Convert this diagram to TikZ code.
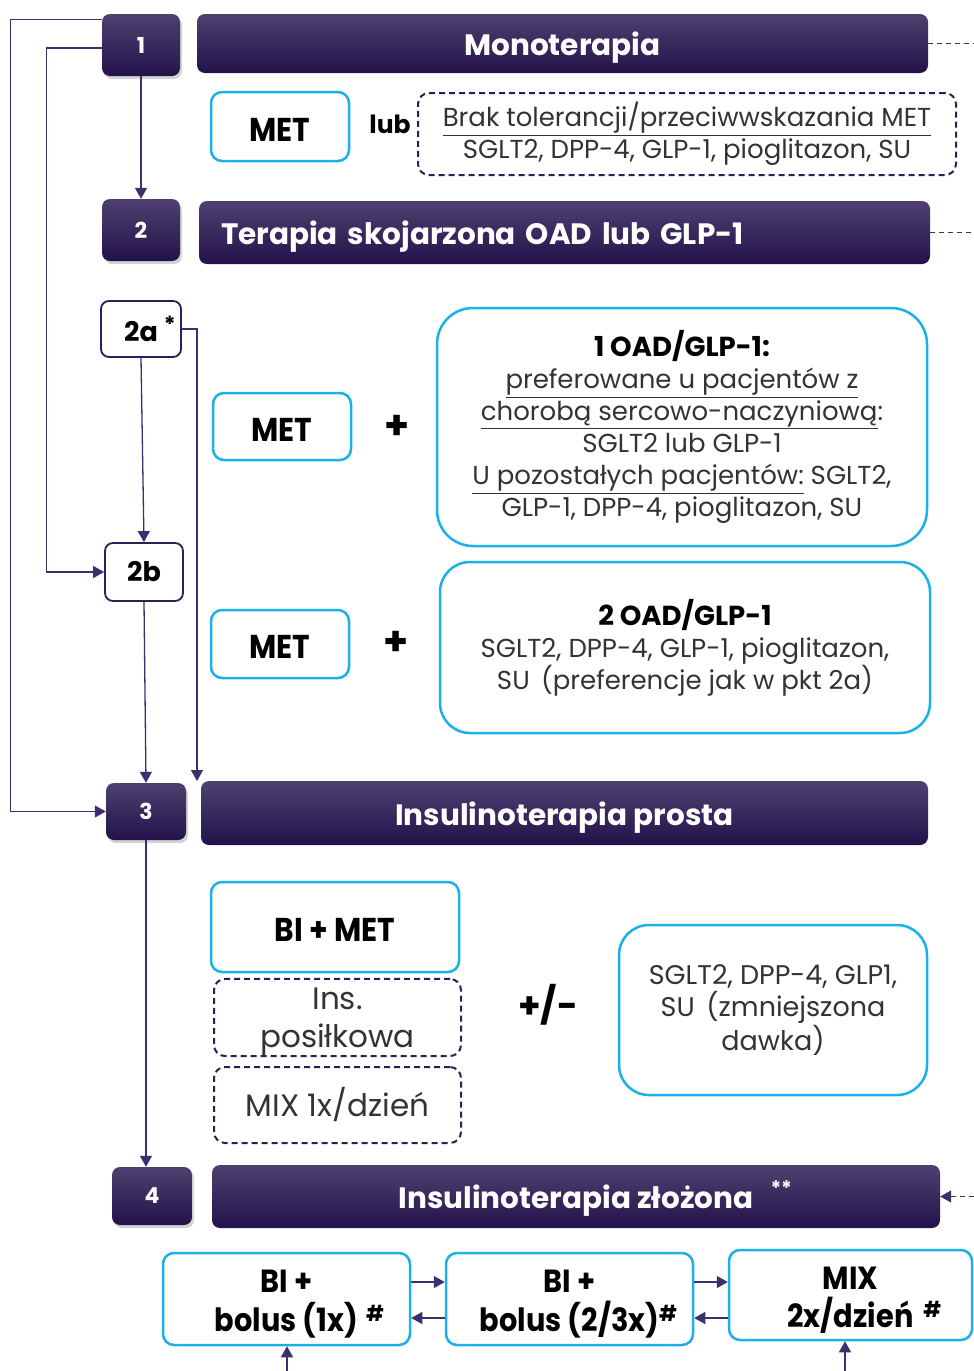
\documentclass[tikz,border=0pt]{standalone}
\usepackage{fontspec}
\setmainfont{Poppins}
\newfontfamily\condf{Poppins}[FakeStretch=0.9]
\usetikzlibrary{arrows.meta,shadows,calc}
\definecolor{hdrtop}{HTML}{4E4170}
\definecolor{hdrbot}{HTML}{22124A}
\definecolor{cy}{HTML}{1CB0E8}
\definecolor{ln}{HTML}{3D2F6E}
\definecolor{dk}{HTML}{2B1E55}
\definecolor{tx}{HTML}{333333}
\newcommand{\bk}[1]{{\color{black}\bfseries\fontsize{27.5}{32}\selectfont #1}}
\newcommand{\ulin}[1]{\underline{#1}}
\newcommand{\fl}[1]{\rule{0pt}{#1}}
\begin{document}
\begin{tikzpicture}[x=1pt,y=-1pt,
  base/.style={inner sep=0pt, align=center, font=\fontsize{26}{32}\selectfont, text=tx},
  numbox/.style={base, rounded corners=8pt, top color=hdrtop, bottom color=hdrbot, draw=none,
     text=white, font=\bfseries\fontsize{22}{26}\selectfont,
     drop shadow={opacity=0.35, shadow xshift=2pt, shadow yshift=-3pt}},
  hdrbox/.style={base, rounded corners=8pt, top color=hdrtop, bottom color=hdrbot, draw=none,
     text=white, font=\bfseries\fontsize{29.5}{32}\selectfont, text height=26pt, text depth=2pt},
  cybox/.style={base, draw=cy, line width=2.5pt, rounded corners=11pt, fill=white},
  dbox/.style={base, draw=dk, line width=2pt, dash pattern=on 6pt off 4pt, rounded corners=11pt},
  lbox/.style={base, draw=dk, line width=1.8pt, rounded corners=8pt, fill=white, text=black,
     font=\bfseries\fontsize{27}{30}\selectfont},
  bigt/.style={font=\condf\bfseries\fontsize{33}{36}\selectfont, text=black, text height=29pt, text depth=0pt},
  bott/.style={font=\condf\bfseries\fontsize{32}{39}\selectfont, text=black},
  conn/.style={draw=ln, line width=1.3pt},
  arr/.style={conn, -{Triangle[width=12pt,length=11pt]}},
  darr/.style={conn, dash pattern=on 5pt off 4pt},
]
\useasboundingbox (0,0) rectangle (974,1371);

% ---- level 1
\node[numbox, minimum width=78pt, minimum height=62pt] (n1) at (141,45) {1};
\node[hdrbox, minimum width=731pt, minimum height=59pt] (h1) at (562.5,43.5) {Monoterapia};
\node[cybox, bigt, minimum width=138pt, minimum height=69pt] (met1) at (280,126.5) {MET};
\node[base, font=\bfseries\fontsize{25}{26}\selectfont, text=black] (lub) at (390,124) {lub};
\node[dbox, minimum width=538pt, minimum height=82pt] (d1) at (687,134)
  {\ulin{Brak tolerancji/przeciwwskazania MET}\\SGLT2, DPP-4, GLP-1, pioglitazon, SU};

% ---- level 2
\node[numbox, minimum width=78pt, minimum height=62pt] (n2) at (141,230) {2};
\node[hdrbox, minimum width=731pt, minimum height=63pt, text width=687pt, align=left,
  inner xsep=22pt] (h2) at (564.5,232.5) {Terapia skojarzona OAD lub GLP-1};

\node[lbox, minimum width=80pt, minimum height=56pt] (n2a) at (141,329)
  {2a\rlap{\hspace{6pt}\raisebox{9pt}{\fontsize{22}{22}\selectfont *}}};
\node[lbox, minimum width=78pt, minimum height=58pt] (n2b) at (144,572) {2b};

\node[cybox, bigt, minimum width=138pt, minimum height=67pt] (met2) at (282,426.5) {MET};
\node[base, font=\bfseries\fontsize{40}{40}\selectfont, text=black] (p1) at (397,427) {+};
\node[cybox, rounded corners=36pt, minimum width=490pt, minimum height=238pt] (big1) at (682,427)
  {\bk{1 OAD/GLP-1:}\\
   \ulin{preferowane u pacjentów z}\\
   \ulin{chorobą sercowo-naczyniową}:\\
   SGLT2 lub GLP-1\\
   \ulin{U pozostałych pacjentów:} SGLT2,\\
   GLP-1, DPP-4, pioglitazon, SU};

\node[cybox, bigt, minimum width=138pt, minimum height=68pt] (met3) at (280,644) {MET};
\node[base, font=\bfseries\fontsize{40}{40}\selectfont, text=black] (p2) at (396,643) {+};
\node[cybox, rounded corners=30pt, minimum width=490pt, minimum height=171pt] (big2) at (685,647.5)
  {\bk{2 OAD/GLP-1}\\
   SGLT2, DPP-4, GLP-1, pioglitazon,\\
   SU\, (preferencje jak w pkt 2a)};

% ---- level 3
\node[numbox, minimum width=80pt, minimum height=57pt] (n3) at (146,811.5) {3};
\node[hdrbox, minimum width=727pt, minimum height=64pt] (h3) at (564.5,813) {Insulinoterapia prosta};

\node[cybox, bigt, minimum width=248pt, minimum height=90pt] (bimet) at (335,927) {BI + MET};
\node[dbox, font=\fontsize{31}{38}\selectfont, minimum width=247pt, minimum height=75pt] (ins) at (337.5,1017.5)
  {\fl{31pt}Ins.\\posiłkowa};
\node[dbox, font=\fontsize{31}{34}\selectfont, minimum width=247pt, minimum height=76pt] (mix1) at (337.5,1105)
  {MIX 1x/dzień};
\node[base, font=\bfseries\fontsize{36}{36}\selectfont, text=black] (pm) at (548,1005) {+/-};
\node[cybox, font=\fontsize{27}{32}\selectfont, rounded corners=30pt, minimum width=308pt, minimum height=170pt] (sg) at (773,1010)
  {SGLT2, DPP-4, GLP1,\\SU\, (zmniejszona\\dawka)};

% ---- level 4
\node[numbox, minimum width=80pt, minimum height=58pt] (n4) at (152,1196) {4};
\node[hdrbox, minimum width=728pt, minimum height=63pt] (h4) at (576,1196.5)
  {Insulinoterapia złożona\rlap{\hspace{17pt}\raisebox{13pt}{\fontsize{20}{20}\selectfont **}}};

\node[cybox, bott, minimum width=247pt, minimum height=92pt] (b1) at (286.5,1299)
  {\fl{32pt}BI +\\bolus (1x)\rlap{\hspace{8pt}\raisebox{10pt}{\fontsize{22}{22}\selectfont\#}}};
\node[cybox, bott, minimum width=247pt, minimum height=92pt] (b2) at (569.5,1299)
  {\fl{32pt}BI +\\bolus (2/3x)\rlap{\raisebox{10pt}{\fontsize{22}{22}\selectfont\#}}};
\node[cybox, bott, font=\condf\bfseries\fontsize{32}{38}\selectfont, minimum width=243pt, minimum height=90pt] (b3) at (850.5,1295)
  {\fl{32pt}MIX\\2x/dzień\rlap{\hspace{10pt}\raisebox{10pt}{\fontsize{22}{22}\selectfont\#}}};

% ---- free ends
\coordinate (e1) at (974,43.5);
\coordinate (e2) at (974,232.5);
\coordinate (e4) at (974,1196.5);
\coordinate (c3) at (197,781);
\coordinate (f1) at (287,1371);
\coordinate (f3) at (845,1371);

% ---- connectors
\draw[arr] ([yshift=-6pt]n1.north west) -- ++(-91,0) |- (n3.west);
\draw[arr] ([yshift=-3pt]n1.west) -- ++(-55,0) |- (n2b.west);
\draw[arr] (n1.south) -- (n2.north);
\draw[arr] (n2a.south) -- (n2b.north);
\draw[arr] (n2a.east) -| (c3);
\draw[arr] (n2b.south) -- (n3.north);
\draw[arr] (n3.south) -- (n3.south |- n4.north);
\draw[darr] (h1.east) -- (e1);
\draw[darr] (h2.east) -- (e2);
\draw[darr, -{Triangle[width=12pt,length=11pt]}] (e4) -- (h4.east);

\draw[arr] ([yshift=17pt]b1.east) -- ([yshift=17pt]b1.east -| b2.west);
\draw[arr] ([yshift=-19pt]b2.west) -- ([yshift=-19pt]b2.west -| b1.east);
\draw[arr] ([yshift=17pt]b2.east) -- ([yshift=17pt]b2.east -| b3.west);
\draw[arr] ([yshift=-19pt]b3.west |- b2.west) -- ([yshift=-19pt]b2.east);
\draw[arr] (f1) -- (f1 |- b1.south);
\draw[arr] (f3) -- (f3 |- b3.south);
\end{tikzpicture}
\end{document}
